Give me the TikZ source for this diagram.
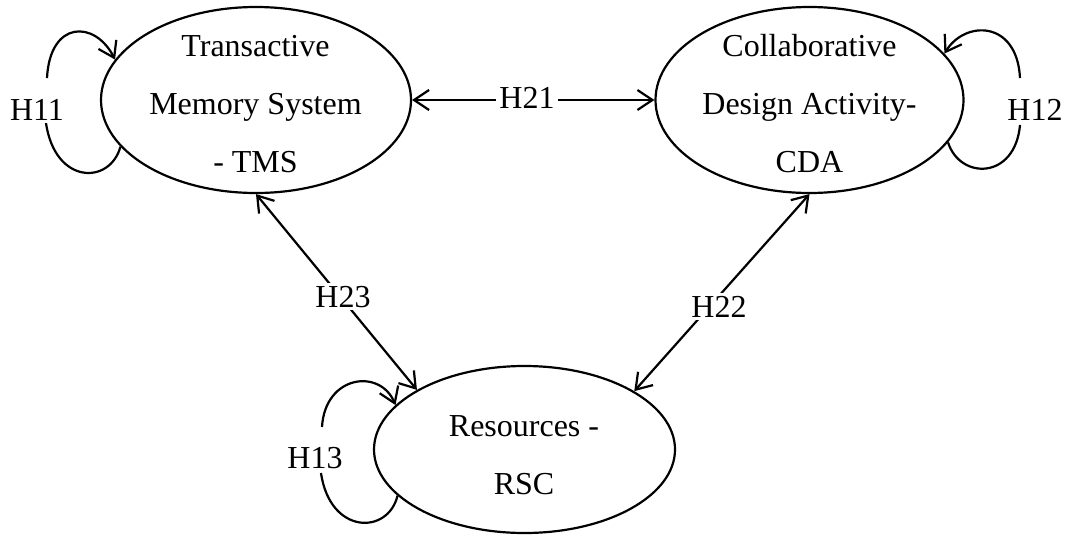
\documentclass[tikz,border=0pt]{standalone}
\usepackage{fontspec}
\setmainfont{Liberation Serif}
\newfontfamily\tnr{Liberation Serif}
\usetikzlibrary{shapes.geometric,arrows.meta}
\begin{document}
\begin{tikzpicture}[x=1pt,y=-1pt,
  ell/.style={draw, ellipse, line width=2.2pt, inner sep=0pt},
  txt/.style={font=\tnr\fontsize{32}{58}\selectfont, align=center, inner sep=0pt},
  hlab/.style={font=\tnr\fontsize{32}{38}\selectfont, anchor=base, fill=white, inner sep=3pt},
  tip/.tip={Straight Barb[length=15pt,width=20pt]},
  conn/.style={line width=2.2pt, -tip},
  biconn/.style={line width=2.2pt, tip-tip},
  arc/.style={line width=2.2pt}]
\useasboundingbox (0,0) rectangle (1067,535);
% ellipses
\node[ell, minimum width=310pt, minimum height=186pt] (tms) at (256,100) {};
\node[ell, minimum width=308pt, minimum height=186pt] (cda) at (809.5,100) {};
\node[ell, minimum width=301pt, minimum height=167pt] (rsc) at (524.5,449.5) {};
% texts
\node[txt] (tmst) at (255.5,104.5) {Transactive\\Memory System\\- TMS};
\node[txt] (cdat) at (809.5,104) {Collaborative\\Design Activity-\\CDA};
\node[txt] (rsct) at (524,455.4) {Resources -\\RSC};
% loop free ends
\coordinate (h11a) at (46,123);
\coordinate (h11b) at (47,78);
\coordinate (h12a) at (1020,125);
\coordinate (h12b) at (1020,78);
\coordinate (h13a) at (321,473);
\coordinate (h13b) at (322,427);
% connectors
\draw[biconn] (tms.east) -- (cda.west);
\draw[biconn] (tms.south) -- (rsc.151);
\draw[biconn] (cda.south) -- (rsc.28.5);
% self loops
\draw[arc] (tms.199) .. controls (110,185) and (55,185) .. (h11a);
\draw[conn] (h11b) .. controls (50,20) and (95,20) .. (tms.164);
\draw[arc] (cda.343) .. controls (960,180) and (1015,180) .. (h12a);
\draw[conn] (h12b) .. controls (1017,20) and (965,20) .. (cda.19);
\draw[arc] (rsc.200) .. controls (388,535) and (330,535) .. (h13a);
\draw[conn] (h13b) .. controls (325,375) and (380,368) .. (rsc.161);
% labels
\node[hlab] (h11) at (37,120) {H11};
\node[hlab] (h12) at (1035,120) {H12};
\node[hlab] (h13) at (315,468) {H13};
\node[hlab] (h21) at (527,108) {H21};
\node[hlab] (h23) at (343,307) {H23};
\node[hlab] (h22) at (719,317) {H22};
\end{tikzpicture}
\end{document}
